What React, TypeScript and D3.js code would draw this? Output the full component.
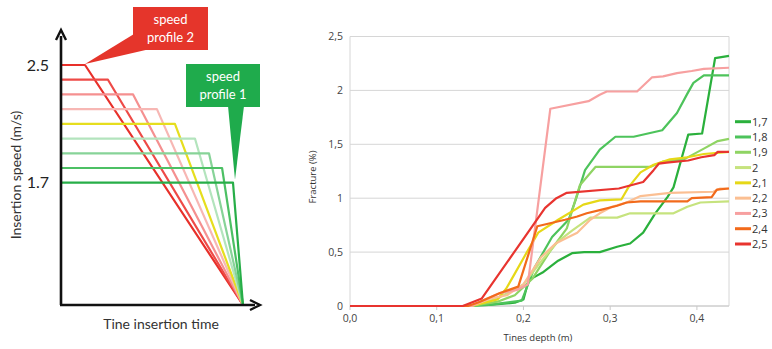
import React from "react";
import * as d3 from "d3";

// ---------- Left schematic data ----------
const profileLevels = [2.5, 2.4, 2.3, 2.2, 2.1, 2.0, 1.9, 1.8, 1.7];
const profileBreaks = [0.132, 0.258, 0.396, 0.527, 0.626, 0.736, 0.813, 0.885, 0.945];
const profileColors = ["#e8302a", "#ee4a47", "#f59090", "#f7b7b4", "#e6de1e", "#b3e4bd", "#87d398", "#4cc064", "#27ae48"];
const levelLabels = ["2.5", "1.7"];

// ---------- Right chart data ----------
const seriesNames = ["1,7", "1,8", "1,9", "2", "2,1", "2,2", "2,3", "2,4", "2,5"];
const seriesColors = ["#2ab03c", "#4dc35b", "#8fd463", "#c6e37e", "#e6d817", "#fbbf92", "#f7a0a0", "#f26a1b", "#e8342f"];

const s17: [number, number][] = [[0,0],[0.13,0],[0.16,0.01],[0.19,0.03],[0.2,0.06],[0.206,0.24],[0.222,0.31],[0.24,0.42],[0.256,0.49],[0.27,0.5],[0.288,0.5],[0.308,0.55],[0.323,0.58],[0.338,0.68],[0.352,0.86],[0.366,1.01],[0.373,1.1],[0.39,1.59],[0.406,1.6],[0.421,2.3],[0.437,2.32]];
const s18: [number, number][] = [[0,0],[0.13,0],[0.16,0.01],[0.198,0.05],[0.213,0.36],[0.233,0.64],[0.252,0.8],[0.26,0.98],[0.271,1.26],[0.288,1.45],[0.306,1.57],[0.327,1.57],[0.36,1.63],[0.377,1.79],[0.389,1.97],[0.396,2.07],[0.408,2.14],[0.437,2.14]];
const s19: [number, number][] = [[0,0],[0.14,0],[0.17,0.04],[0.19,0.1],[0.21,0.25],[0.23,0.5],[0.25,0.72],[0.265,1.12],[0.283,1.29],[0.346,1.29],[0.361,1.34],[0.385,1.36],[0.408,1.46],[0.424,1.53],[0.437,1.55]];
const s20: [number, number][] = [[0,0],[0.14,0],[0.17,0.07],[0.2,0.2],[0.222,0.43],[0.24,0.6],[0.256,0.7],[0.277,0.82],[0.308,0.82],[0.323,0.86],[0.373,0.86],[0.389,0.92],[0.404,0.96],[0.437,0.97]];
const s21: [number, number][] = [[0,0],[0.14,0],[0.17,0.06],[0.18,0.16],[0.19,0.3],[0.204,0.5],[0.217,0.68],[0.24,0.8],[0.269,0.94],[0.288,0.98],[0.313,0.99],[0.321,1.1],[0.335,1.24],[0.35,1.31],[0.369,1.36],[0.389,1.38],[0.408,1.41],[0.437,1.43]];
const s22: [number, number][] = [[0,0],[0.14,0],[0.162,0.07],[0.181,0.1],[0.2,0.2],[0.22,0.45],[0.237,0.58],[0.252,0.64],[0.262,0.68],[0.277,0.8],[0.288,0.86],[0.302,0.92],[0.319,0.96],[0.335,1.02],[0.369,1.05],[0.419,1.06],[0.427,1.09],[0.437,1.09]];
const s23: [number, number][] = [[0,0],[0.14,0],[0.153,0.05],[0.173,0.12],[0.193,0.15],[0.205,0.2],[0.231,1.83],[0.275,1.9],[0.288,1.96],[0.296,1.99],[0.331,1.99],[0.348,2.12],[0.361,2.13],[0.377,2.16],[0.394,2.18],[0.408,2.2],[0.437,2.21]];
const s24: [number, number][] = [[0,0],[0.136,0],[0.15,0.04],[0.173,0.12],[0.194,0.18],[0.216,0.74],[0.248,0.8],[0.262,0.83],[0.273,0.86],[0.288,0.89],[0.308,0.93],[0.319,0.96],[0.335,0.97],[0.389,0.97],[0.394,1.0],[0.417,1.01],[0.423,1.08],[0.437,1.09]];
const s25: [number, number][] = [[0,0],[0.13,0],[0.152,0.07],[0.225,0.91],[0.238,1.0],[0.25,1.05],[0.31,1.09],[0.338,1.15],[0.35,1.26],[0.356,1.32],[0.365,1.33],[0.39,1.35],[0.405,1.38],[0.42,1.4],[0.424,1.43],[0.437,1.43]];
const allSeries = [s17, s18, s19, s20, s21, s22, s23, s24, s25];

const xTicks = [0, 0.1, 0.2, 0.3, 0.4];
const yTicks = [0, 0.5, 1, 1.5, 2, 2.5];

export default function App() {
  // Left schematic scales
  const tx = d3.scaleLinear().domain([0, 1]).range([61, 243]);
  const sy = d3.scaleLinear().domain([1.7, 2.5]).range([182.7, 65]);
  const axisY = 305;

  // Right chart scales
  const x = d3.scaleLinear().domain([0, 0.437]).range([350, 729]);
  const y = d3.scaleLinear().domain([0, 2.5]).range([306, 36.5]);
  const line = d3.line<[number, number]>().x(d => x(d[0])).y(d => y(d[1]));
  const fmt = (v: number) => v.toFixed(1).replace(".", ",");
  const fmtY = (v: number) => String(v).replace(".", ",");
  const legendY = d3.scaleLinear().domain([0, 8]).range([121.7, 244]);

  return (
    <svg width={772} height={349} style={{ position: "absolute", left: 0, top: 0, background: "#fff" }}>
      <rect x={0} y={0} width={772} height={349} fill="#fff" />
      {/* ---------- Left schematic ---------- */}
      <g>
        {profileLevels.map((lv, i) => (
          <path
            key={i}
            d={`M${tx(0)},${sy(lv)} L${tx(profileBreaks[i])},${sy(lv)} L${tx(1)},${axisY}`}
            fill="none"
            stroke={profileColors[i]}
            strokeWidth={2.2}
            strokeLinejoin="round"
          />
        ))}
        {/* axes */}
        <line x1={tx(0)} y1={axisY} x2={tx(0)} y2={36} stroke="#111" strokeWidth={2.6} />
        <path d={`M${tx(0) - 5},${40} L${tx(0)},${30} L${tx(0) + 5},${40}`} fill="none" stroke="#111" strokeWidth={2.4} />
        <line x1={tx(0) - 1} y1={axisY} x2={255} y2={axisY} stroke="#111" strokeWidth={2.6} />
        <path d={`M${250},${axisY - 5} L${260},${axisY} L${250},${axisY + 5}`} fill="none" stroke="#111" strokeWidth={2.4} />
        {levelLabels.map(l => (
          <text key={l} x={49} y={sy(+l) + 5.5} textAnchor="end" fontFamily="Lato, 'Open Sans', sans-serif" fontSize={16} fill="#222">{l}</text>
        ))}
        <text transform="translate(21,175) rotate(-90)" textAnchor="middle" fontFamily="Lato, 'Open Sans', sans-serif" fontSize={14} fill="#333">Insertion speed (m/s)</text>
        <text x={161} y={329} textAnchor="middle" fontFamily="Lato, 'Open Sans', sans-serif" fontSize={14} fill="#333">Tine insertion time</text>

        {/* callout 2 */}
        <polygon points={`${tx(profileBreaks[0])},${sy(2.5) - 1} 134,34 150,49`} fill="#e5352b" />
        <rect x={133} y={7} width={75} height={43} fill="#e5352b" />
        <text x={170.5} y={24} textAnchor="middle" fontFamily="Lato, 'Open Sans', sans-serif" fontSize={13} fill="#fff">speed</text>
        <text x={170.5} y={42} textAnchor="middle" fontFamily="Lato, 'Open Sans', sans-serif" fontSize={13} fill="#fff">profile 2</text>
        {/* callout 1 */}
        <polygon points={`228,106 244,106 ${tx(profileBreaks[8]) + 2},${sy(1.7) - 3}`} fill="#1fab4c" />
        <rect x={186} y={64} width={74} height={43} fill="#1fab4c" />
        <text x={223} y={81} textAnchor="middle" fontFamily="Lato, 'Open Sans', sans-serif" fontSize={13} fill="#fff">speed</text>
        <text x={223} y={99} textAnchor="middle" fontFamily="Lato, 'Open Sans', sans-serif" fontSize={13} fill="#fff">profile 1</text>
      </g>

      {/* ---------- Right chart ---------- */}
      <g fontFamily="'Open Sans', 'Noto Sans', sans-serif">
        {yTicks.map(t => (
          <line key={t} x1={x(0)} x2={x(0.437)} y1={y(t)} y2={y(t)} stroke="#d6d6d6" strokeWidth={1} />
        ))}
        <line x1={x(0)} x2={x(0)} y1={y(0)} y2={y(2.5)} stroke="#d6d6d6" />
        <line x1={x(0.437)} x2={x(0.437)} y1={y(0)} y2={y(2.5)} stroke="#d6d6d6" />
        <line x1={x(0)} x2={x(0.437)} y1={y(0)} y2={y(0)} stroke="#c8c8c8" />
        {xTicks.map(t => (
          <g key={t}>
            <line x1={x(t)} x2={x(t)} y1={y(0)} y2={y(0) + 4} stroke="#c8c8c8" />
            <text x={x(t)} y={322} textAnchor="middle" fontSize={10.5} fill="#444">{fmt(t)}</text>
          </g>
        ))}
        {yTicks.map(t => (
          <text key={t} x={343} y={y(t) + 3.5} textAnchor="end" fontSize={10.5} fill="#444">{fmtY(t)}</text>
        ))}
        <text transform="translate(316,177) rotate(-90)" textAnchor="middle" fontSize={9.5} fill="#333">Fracture (%)</text>
        <text x={538} y={341} textAnchor="middle" fontSize={9.5} fill="#333">Tines depth (m)</text>

        {allSeries.map((s, i) => (
          <path key={i} d={line(s) || ""} fill="none" stroke={seriesColors[i]} strokeWidth={2.2} strokeLinejoin="round" />
        ))}

        {seriesNames.map((n, i) => (
          <g key={n}>
            <line x1={735} x2={751} y1={legendY(i)} y2={legendY(i)} stroke={seriesColors[i]} strokeWidth={3} />
            <text x={752} y={legendY(i) + 4} fontSize={11} fill="#333">{n}</text>
          </g>
        ))}
      </g>
    </svg>
  );
}
